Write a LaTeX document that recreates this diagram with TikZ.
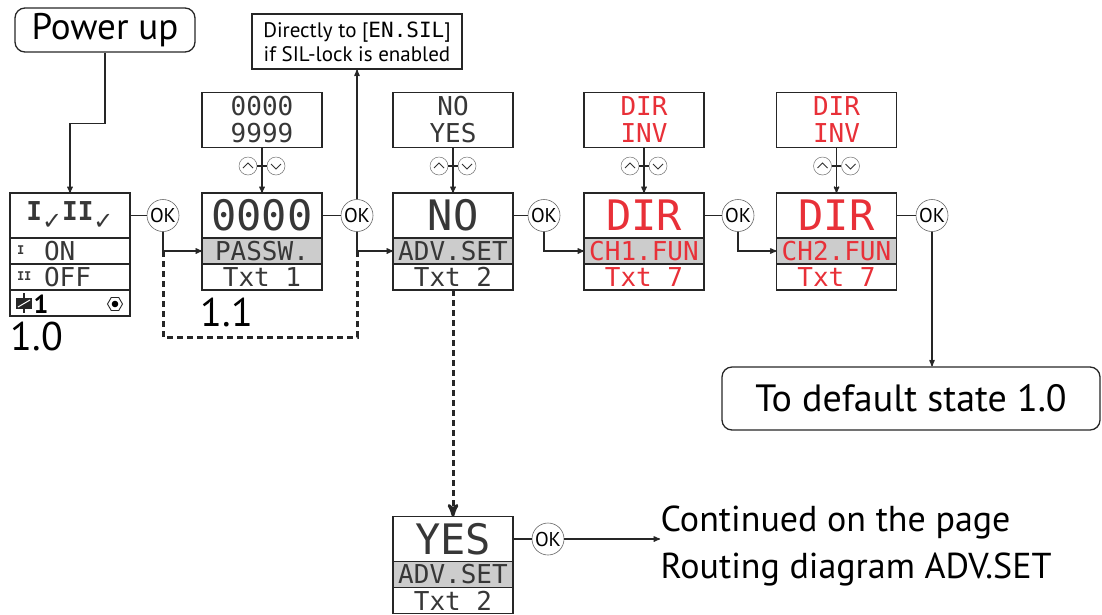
\documentclass[tikz,border=0pt]{standalone}
\usepackage{fontspec}
\setmainfont{PT Sans}
\newfontfamily\lcdfont{DejaVu Sans Mono}
\newfontfamily\symfont{DejaVu Sans}
\usetikzlibrary{arrows}
\usetikzlibrary{positioning,shapes.geometric}
\definecolor{lcdred}{RGB}{232,48,56}
\definecolor{lcdgray}{RGB}{204,204,204}
\definecolor{lcdink}{RGB}{55,55,55}
\tikzset{
    screen/.style={
           rectangle,
           draw=black!85, line width=1.6pt,
           minimum width=120pt,
           minimum height=45pt,
           inner sep=0pt, outer sep=0pt,
           text=lcdink,
           font=\lcdfont\fontsize{42}{42}\selectfont,
           },
    screenrow/.style={screen, minimum height=26pt,
           font=\lcdfont\fontsize{26}{26}\selectfont},
    screenbar/.style={screenrow, fill=lcdgray},
    choices/.style={
           rectangle,
           draw=black!85, line width=1.2pt,
           minimum width=120pt, minimum height=55pt,
           inner sep=0pt, align=center,
           text=lcdink,
           font=\lcdfont\fontsize{26}{27}\selectfont,
           },
    okkey/.style={circle, draw=black!60, line width=0.6pt, fill=white,
           minimum size=32pt, inner sep=0pt, font=\fontsize{20}{20}\selectfont},
    upkey/.style={circle, draw=black!55, line width=0.5pt, fill=white,
           minimum size=18pt, inner sep=0pt,
           path picture={\draw[line width=0.9pt, black!80]
             ([shift={(-5pt,-2pt)}]path picture bounding box.center)
             -- ++(5pt,5pt) -- ++(5pt,-5pt);}},
    downkey/.style={upkey,
           path picture={\draw[line width=0.9pt, black!80]
             ([shift={(-5pt,2pt)}]path picture bounding box.center)
             -- ++(5pt,-5pt) -- ++(5pt,5pt);}},
    terminal/.style={rectangle, rounded corners=10pt, draw=black!85,
           line width=1.3pt, inner sep=0pt,
           font=\fontsize{37}{37}\selectfont},
    note/.style={rectangle, draw=black!85, line width=1.2pt, inner sep=0pt,
           align=center, font=\fontsize{21}{24}\selectfont},
    steplabel/.style={inner sep=0pt, font=\fontsize{40}{40}\selectfont},
    skip/.style={dash pattern=on 6pt off 4pt, line width=3pt},
}

\begin{document}
\begin{tikzpicture}[>=stealth', x=1pt, y=-1pt, line width=1.3pt, draw=black!85]
 \useasboundingbox (0,0) rectangle (1102,614);

 % start
 \node[terminal, minimum width=180pt, minimum height=44pt] (power) at (105,30)
 {Power up};

 % display 1.0
 \node[screen, font=\lcdfont\bfseries\fontsize{26}{26}\selectfont] (main) at (70,215.5)
 {\raisebox{3pt}{I}\raisebox{-6pt}{\symfont\fontsize{24}{24}\selectfont\mdseries ✓}%
  \raisebox{3pt}{II}\raisebox{-6pt}{\symfont\fontsize{24}{24}\selectfont\mdseries ✓}};
 \node[screenrow, below=0pt of main, text width=106pt, align=left] (mainon)
 {\makebox[27pt][l]{\raisebox{6pt}{\fontsize{12}{12}\selectfont\bfseries I}}ON};
 \node[screenrow, below=0pt of mainon, text width=106pt, align=left] (mainoff)
 {\makebox[27pt][l]{\raisebox{6pt}{\fontsize{12}{12}\selectfont\bfseries II}}OFF};
 \node[screenrow, below=0pt of mainoff] (mainrelay) {};
 \node[regular polygon, regular polygon sides=6, draw, line width=0.9pt,
  minimum size=15pt, inner sep=0pt] (mainhex) at (115,304) {};
 \fill (mainhex.center) circle (3.3pt);
 \draw[line width=1.6pt, fill=black!85] (17,299) rectangle (31,308);
 \draw[line width=1.6pt] (24,293) -- (24,313);
 \draw[line width=1pt, white] (18,307) -- (30,300);
 \node[font=\bfseries\fontsize{26}{26}\selectfont, inner sep=0pt] (mainone) at (41,304) {1};
 \node[steplabel, anchor=north west] (lbl10) at ([yshift=-5pt]mainrelay.south west) {1.0};

 % display 1.1
 \node[screen] (pass) at (262,215.5) {0000};
 \node[screenbar, below=0pt of pass] (passbar) {PASSW.};
 \node[screenrow, below=0pt of passbar] (passtxt) {Txt 1};
 \node[choices, above=45pt of pass] (passopt) {0000\\9999};
 \node[upkey] (passup) at (248,166) {};
 \node[downkey] (passdn) at (276,166) {};
 \node[steplabel, anchor=north west] (lbl11) at ([xshift=-2pt,yshift=-7pt]passtxt.south west) {1.1};

 % display advanced settings
 \node[screen] (adv) at (453,215.5) {NO};
 \node[screenbar, below=0pt of adv] (advbar) {ADV.SET};
 \node[screenrow, below=0pt of advbar] (advtxt) {Txt 2};
 \node[choices, above=45pt of adv] (advopt) {NO\\YES};
 \node[upkey] (advup) at (439,166) {};
 \node[downkey] (advdn) at (467,166) {};

 % display channel 1
 \node[screen, text=lcdred] (chone) at (644,215.5) {DIR};
 \node[screenbar, text=lcdred, below=0pt of chone] (chonebar) {CH1.FUN};
 \node[screenrow, text=lcdred, below=0pt of chonebar] (chonetxt) {Txt 7};
 \node[choices, text=lcdred, above=45pt of chone] (choneopt) {DIR\\INV};
 \node[upkey] (choneup) at (630,166) {};
 \node[downkey] (chonedn) at (658,166) {};

 % display channel 2
 \node[screen, text=lcdred] (chtwo) at (836.5,215.5) {DIR};
 \node[screenbar, text=lcdred, below=0pt of chtwo] (chtwobar) {CH2.FUN};
 \node[screenrow, text=lcdred, below=0pt of chtwobar] (chtwotxt) {Txt 7};
 \node[choices, text=lcdred, above=45pt of chtwo] (chtwoopt) {DIR\\INV};
 \node[upkey] (chtwoup) at (822.5,166) {};
 \node[downkey] (chtwodn) at (850.5,166) {};

 % display advanced settings = YES
 \node[screen] (yes) at (453,539) {YES};
 \node[screenbar, below=0pt of yes] (yesbar) {ADV.SET};
 \node[screenrow, below=0pt of yesbar] (yestxt) {Txt 2};

 % OK keys
 \node[okkey] (okmain) at (163,215.5) {OK};
 \node[okkey] (okpass) at (357,215.5) {OK};
 \node[okkey] (okadv) at (544,215.5) {OK};
 \node[okkey] (okchone) at (738,215.5) {OK};
 \node[okkey] (okchtwo) at (932,215.5) {OK};
 \node[okkey] (okyes) at (548,539) {OK};

 % texts
 \node[note, minimum width=210pt, minimum height=55pt] (direct) at (357,41.5)
 {Directly to [{\lcdfont EN.SIL}]\\if SIL-lock is enabled};
 \node[terminal, minimum width=378pt, minimum height=63pt, font=\fontsize{38}{38}\selectfont] (back) at (911,398.5)
 {To default state 1.0};
 \node[inner sep=0pt, anchor=north west, align=left,
  font=\fontsize{36}{47}\selectfont] (more) at (660,505)
 {Continued on the page\\Routing diagram ADV.SET};

 % skip path
 \coordinate (skipl) at (163,337);
 \coordinate (skipr) at (357,337);

 % draw the connectors
 \draw[->] (power.south) -- ++(0,71) -| (main.north);
 \draw (main.east) -- (okmain);
 \draw[->] (okmain.south) |- (passbar.west);
 \draw[skip] (okmain |- passbar.west) -- (skipl) -- (skipr) -- (okpass |- advbar.west);
 \draw (pass.east) -- (okpass);
 \draw[->] (okpass.north) -- (direct.south);
 \draw[->] (okpass.south) |- (advbar.west);
 \draw (adv.east) -- (okadv);
 \draw[->] (okadv.south) |- (chonebar.west);
 \draw (chone.east) -- (okchone);
 \draw[->] (okchone.south) |- (chtwobar.west);
 \draw (chtwo.east) -- (okchtwo);
 \draw[->] (okchtwo.south) -- (okchtwo |- back.north);
 \draw[skip,->] (advtxt.south) -- (yes.north);
 \draw (yes.east) -- (okyes);
 \draw[->] (okyes.east) -- (okyes -| more.west);

 % choice keys
 \draw[->] (passopt.south) -- (pass.north);
 \draw (passup.east) -- (passdn.west);
 \draw[->] (advopt.south) -- (adv.north);
 \draw (advup.east) -- (advdn.west);
 \draw[->] (choneopt.south) -- (chone.north);
 \draw (choneup.east) -- (chonedn.west);
 \draw[->] (chtwoopt.south) -- (chtwo.north);
 \draw (chtwoup.east) -- (chtwodn.west);
\end{tikzpicture}
\end{document}
